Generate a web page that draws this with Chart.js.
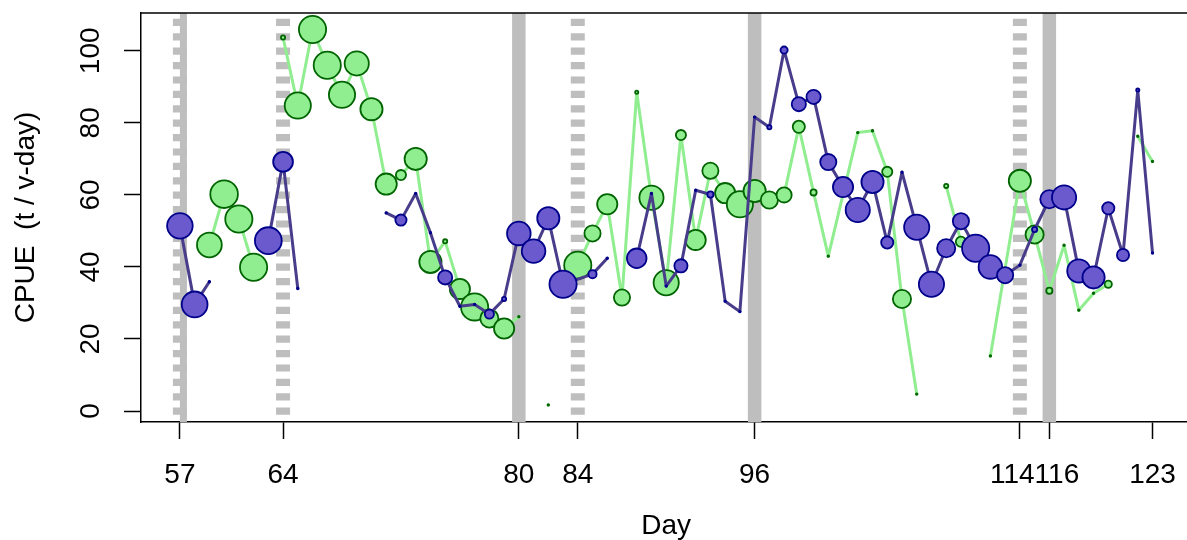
<!DOCTYPE html>
<html>
<head>
<meta charset="utf-8">
<script src="https://cdn.jsdelivr.net/npm/chart.js@4"></script>
<style>
  html, body { margin: 0; padding: 0; background: #fff; overflow: hidden; }
  #wrap { width: 1192px; height: 540px; }
</style>
</head>
<body>
<div id="wrap"><canvas id="chart" width="1192" height="540"></canvas></div>
<script>
// catch per unit effort by day, two fleets; null = no fishing that day (line breaks)
const greenDays = [59, 60, 61, 62, 63, 64, 65, 66, 67, 68, 69, 70, 71, 72, 73, 74, 75, 76, 77, 78, 79, 80, 81, 82, 83,
  84, 85, 86, 87, 88, 89, 90, 91, 92, 93, 94, 95, 96, 97, 98, 99, 100, 101, 103, 104, 105, 106, 107, 108,
  109, 110, 111, 112, 114, 115, 116, 117, 118, 119, 120, 121, 122, 123];
const greenCpue = [46.1, 60.2, 53.3, 39.9, null, 103.7, 84.8, 105.9, 96.0, 87.8, 96.5, 83.8, 63.0, 65.5, 70.0, 41.4, 47.1, 33.9, 28.9, 25.7, 22.9, 26.2, null, 1.7, null,
  40.5, 49.3, 57.4, 31.5, 88.5, 59.2, 35.6, 76.6, 47.5, 66.7, 60.5, 57.4, 61.1, 58.6, 60.0, 78.9, 60.7, 43.0, 77.3, 77.8, 66.4, 31.1, 4.7, null,
  62.5, 47.0, null, 15.3, 63.9, 49.0, 33.4, 46.0, 28.0, 32.7, 35.2, null, 76.3, 69.3];
const greenSize = [13.3, 14.7, 14.5, 14.5, 0, 3, 14, 14.5, 14.5, 14, 13, 12, 11.5, 6, 12, 12, 3, 11, 14.5, 10, 11, 1.2, 0, 1.2, 0,
  14.5, 9, 11, 9, 2.5, 13, 13.5, 6, 11, 9, 11, 14, 12, 9.5, 8.5, 7, 4, 1.2, 1.2, 1.2, 6, 10, 1.2, 0,
  3, 6, 0, 1.2, 12, 10, 4, 1.2, 1.2, 1.2, 4.5, 0, 1.2, 1.2];

const blueDays = [57, 58, 59, 60, 63, 64, 65, 66, 71, 72, 73, 74, 75, 76, 77, 78, 79, 80, 81, 82, 83,
  85, 86, 87, 88, 89, 90, 91, 92, 93, 94, 95, 96, 97, 98, 99, 100, 101, 102, 103, 104, 105, 106, 107, 108,
  109, 110, 111, 112, 113, 114, 115, 116, 117, 118, 119, 120, 121, 122, 123];
const blueCpue = [51.4, 29.6, 35.9, null, 47.3, 69.2, 34.0, null, 55.0, 53.0, 60.4, 49.5, 37.1, 29.1, 29.6, 26.9, 31.1, 49.3, 44.4, 53.5, 35.2,
  38.0, 42.4, null, 42.4, 60.4, 34.7, 40.3, 61.3, 60.1, 30.5, 27.6, 81.6, 78.8, 100.2, 85.2, 87.2, 69.1, 62.2, 55.8, 63.6, 46.8, 66.3, 51.0, 35.2,
  45.2, 52.7, 45.2, 40.0, 37.7, 40.5, 50.4, 58.8, 59.3, 38.9, 37.1, 56.3, 43.3, 89.1, 43.9];
const blueSize = [13.7, 13.8, 1.5, 0, 14.3, 10.8, 1.5, 0, 1.5, 6.5, 1.5, 1.5, 8, 1.5, 1.5, 5.5, 3, 12.7, 12.7, 12, 14.5,
  5, 1.5, 0, 10.7, 1.5, 1.5, 7.5, 1.5, 4, 1.5, 1.5, 1.5, 3, 4.5, 8, 8, 9, 11, 13, 12, 7, 1.5, 13.5, 13.5,
  10, 9, 14.5, 12.7, 9, 1.5, 3.5, 10, 13, 12.5, 12, 7, 7, 2.5, 1.5];

// closure days drawn as grey bars
const solidDays = [57, 80, 96, 116];
const dashedDays = [57, 64, 84, 114];

const xTickDays = [57, 64, 80, 84, 96, 114, 116, 123];
const yTickValues = [0, 20, 40, 60, 80, 100];

const FONT = "'Liberation Sans', Arial, Helvetica, sans-serif";
const FONT_SIZE = 28;
const BAR_GREY = '#bebebe';

function toPoints(days, vals) {
  return days.map((d, i) => ({x: d, y: vals[i]}));
}
function markerRadius(sizes, border) {
  return sizes.map(s => Math.max(s - border / 2, 0.8));
}

const bandsAndFrame = {
  id: 'bandsAndFrame',
  beforeDatasetsDraw(chart) {
    const {ctx, chartArea: a, scales: {x}} = chart;
    ctx.save();
    ctx.beginPath();
    ctx.rect(a.left, a.top, a.right - a.left, a.bottom - a.top);
    ctx.clip();
    ctx.strokeStyle = BAR_GREY;
    ctx.lineCap = 'butt';
    for (const d of solidDays) {
      let px = x.getPixelForValue(d);
      let w = 13.5;
      // shares the day with a dashed bar: solid one sits on the right half
      if (dashedDays.includes(d)) { w = 7; px += 3.5; }
      ctx.lineWidth = w;
      ctx.setLineDash([]);
      ctx.beginPath();
      ctx.moveTo(px, a.bottom);
      ctx.lineTo(px, a.top);
      ctx.stroke();
    }
    for (const d of dashedDays) {
      const px = x.getPixelForValue(d);
      ctx.lineWidth = 14;
      ctx.setLineDash([7.2, 7.2]);
      ctx.lineDashOffset = 7.2;
      ctx.beginPath();
      ctx.moveTo(px, a.bottom);
      ctx.lineTo(px, a.top);
      ctx.stroke();
    }
    ctx.restore();
  },
  afterDraw(chart) {
    const {ctx, chartArea: a, scales: {x, y}} = chart;
    ctx.save();
    // top edge of the box
    ctx.strokeStyle = '#000';
    ctx.lineWidth = 1.5;
    ctx.beginPath();
    ctx.moveTo(a.left - 0.75, a.top);
    ctx.lineTo(a.right, a.top);
    ctx.stroke();

    ctx.fillStyle = '#000';
    ctx.font = FONT_SIZE + 'px ' + FONT;
    // y labels run along the axis
    for (const v of yTickValues) {
      const py = y.getPixelForValue(v);
      ctx.save();
      ctx.translate(91, py);
      ctx.rotate(-Math.PI / 2);
      ctx.textAlign = 'center';
      ctx.textBaseline = 'middle';
      ctx.fillText(String(v), 0, 0);
      ctx.restore();
    }
    // x labels; two close ticks get pushed apart so they butt together
    ctx.textBaseline = 'middle';
    xTickDays.forEach((d, i) => {
      const px = x.getPixelForValue(d);
      const prev = i > 0 ? x.getPixelForValue(xTickDays[i - 1]) : -Infinity;
      const next = i < xTickDays.length - 1 ? x.getPixelForValue(xTickDays[i + 1]) : Infinity;
      if (next - px < 40) {
        ctx.textAlign = 'right';
        ctx.fillText(String(d), (px + next) / 2, 475);
      } else if (px - prev < 40) {
        ctx.textAlign = 'left';
        ctx.fillText(String(d), (px + prev) / 2, 475);
      } else {
        ctx.textAlign = 'center';
        ctx.fillText(String(d), px, 475);
      }
    });
    ctx.restore();
  }
};

const PT_BORDER = 1.8;

new Chart(document.getElementById('chart'), {
  type: 'line',
  data: {
    datasets: [
      {
        label: 'blue',
        data: toPoints(blueDays, blueCpue),
        borderColor: '#483d8b',
        borderWidth: 3,
        borderJoinStyle: 'round',
        borderCapStyle: 'round',
        pointBackgroundColor: '#6a5acd',
        pointBorderColor: '#00008b',
        pointBorderWidth: PT_BORDER,
        pointRadius: markerRadius(blueSize, PT_BORDER),
        spanGaps: false,
        tension: 0
      },
      {
        label: 'green',
        data: toPoints(greenDays, greenCpue),
        borderColor: '#90ee90',
        borderWidth: 3,
        borderJoinStyle: 'round',
        borderCapStyle: 'round',
        pointBackgroundColor: '#90ee90',
        pointBorderColor: '#006400',
        pointBorderWidth: PT_BORDER,
        pointRadius: markerRadius(greenSize, PT_BORDER),
        spanGaps: false,
        tension: 0
      }
    ]
  },
  options: {
    responsive: false,
    animation: false,
    devicePixelRatio: 1,
    events: [],
    layout: { autoPadding: false, padding: { top: 13, right: 0.6, left: 0, bottom: 0 } },
    plugins: { legend: { display: false }, tooltip: { enabled: false } },
    scales: {
      x: {
        type: 'linear',
        min: 54.36,
        max: 125.64,
        afterBuildTicks: s => { s.ticks = xTickDays.map(v => ({value: v})); },
        afterFit: s => { s.height = 118; },
        ticks: { display: false },
        grid: { drawOnChartArea: false, drawTicks: true, tickLength: 17, tickColor: '#000', tickWidth: 1.5 },
        border: { display: true, color: '#000', width: 1.5 },
        title: {
          display: true,
          text: 'Day',
          color: '#000',
          font: { family: FONT, size: FONT_SIZE },
          padding: { top: 0, bottom: -3 }
        }
      },
      y: {
        type: 'linear',
        min: -3.05,
        max: 110.5,
        afterBuildTicks: s => { s.ticks = yTickValues.map(v => ({value: v})); },
        afterFit: s => { s.width = 141; },
        ticks: { display: false },
        grid: { drawOnChartArea: false, drawTicks: true, tickLength: 17, tickColor: '#000', tickWidth: 1.5 },
        border: { display: true, color: '#000', width: 1.5 },
        title: {
          display: true,
          text: 'CPUE  (t / v-day)',
          color: '#000',
          font: { family: FONT, size: FONT_SIZE },
          padding: { top: 9, bottom: 0 }
        }
      }
    }
  },
  plugins: [bandsAndFrame]
});
</script>
</body>
</html>
